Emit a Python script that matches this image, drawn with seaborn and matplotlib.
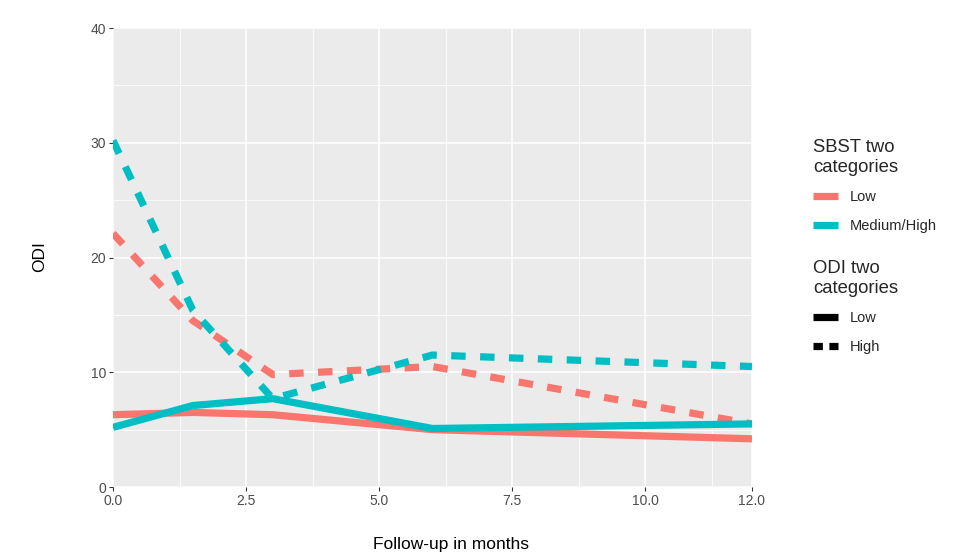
import matplotlib
matplotlib.use("Agg")
import matplotlib.pyplot as plt
from matplotlib.lines import Line2D
from matplotlib.ticker import MultipleLocator, FixedLocator
import seaborn as sns
import pandas as pd

# Follow-up visits (months)
months = [0, 1.5, 3, 6, 12]

# Mean ODI per group
sbst_low_odi_low = [6.3, 6.5, 6.3, 5.0, 4.2]
sbst_med_odi_low = [5.2, 7.1, 7.7, 5.1, 5.5]
sbst_low_odi_high = [22.1, 14.5, 9.8, 10.5, 5.5]
sbst_med_odi_high = [30.2, 15.4, 7.7, 11.5, 10.5]

sbst_levels = ["Low", "Medium/High"]
odi_levels = ["Low", "High"]
x_ticks = [0, 2.5, 5, 7.5, 10, 12]
x_tick_labels = ["0.0", "2.5", "5.0", "7.5", "10.0", "12.0"]
y_ticks = [0, 10, 20, 30, 40]

groups = [
    ("Low", "Low", sbst_low_odi_low),
    ("Medium/High", "Low", sbst_med_odi_low),
    ("Low", "High", sbst_low_odi_high),
    ("Medium/High", "High", sbst_med_odi_high),
]
rows = []
for sbst, odi, vals in groups:
    for m, v in zip(months, vals):
        rows.append({"month": m, "odi": v, "sbst": sbst, "odicat": odi})
df = pd.DataFrame(rows)

sns.set_theme(style="darkgrid")
plt.rcParams["font.family"] = ["Liberation Sans", "DejaVu Sans"]

palette = {"Low": "#F8766D", "Medium/High": "#00BFC4"}
dash_map = {"Low": "", "High": (2, 2)}

fig = plt.figure(figsize=(9.6, 5.55), dpi=100)
fig.patch.set_facecolor("white")
ax = fig.add_axes([0.1177, 0.1225, 0.6656, 0.827])
ax.set_facecolor("#EBEBEB")

sns.lineplot(data=df, x="month", y="odi", hue="sbst", style="odicat",
             hue_order=sbst_levels, style_order=odi_levels,
             palette=palette, dashes=dash_map, linewidth=5.2,
             legend=False, ax=ax, estimator=None, sort=True)
for ln in ax.get_lines():
    ln.set_solid_capstyle("butt")
    ln.set_dash_capstyle("butt")

ax.set_xlim(0, 12)
ax.set_ylim(0, 40)
ax.xaxis.set_major_locator(FixedLocator(x_ticks))
ax.set_xticklabels(x_tick_labels)
ax.xaxis.set_minor_locator(FixedLocator([1.25, 3.75, 6.25, 8.75, 11.25]))
ax.yaxis.set_major_locator(FixedLocator(y_ticks))
ax.yaxis.set_minor_locator(MultipleLocator(5))
ax.grid(which="major", color="white", linewidth=1.1)
ax.grid(which="minor", color="white", linewidth=0.55)
for s in ax.spines.values():
    s.set_visible(False)
ax.tick_params(which="major", length=3, width=0.8, color="#333333",
               labelsize=10, labelcolor="#4D4D4D", pad=2, bottom=True, left=True)
ax.tick_params(which="minor", length=0)

ax.set_xlabel("")
ax.set_ylabel("")
fig.text(451 / 960, 1 - 545 / 555, "Follow-up in months", fontsize=12.5,
         ha="center", va="center", color="black")
fig.text(40 / 960, 1 - 257 / 555, "ODI", fontsize=12.5, rotation=90,
         ha="center", va="center", color="black")

# Legends
common = dict(loc="upper left", frameon=False, fontsize=10.5, title_fontsize=13.3,
              handlelength=1.7, handletextpad=0.8, labelspacing=1.0,
              borderpad=0, alignment="left")
h1 = [Line2D([], [], color=palette[k], linewidth=5.2, solid_capstyle="butt") for k in sbst_levels]
leg1 = fig.legend(h1, sbst_levels, title="SBST two\ncategories",
                  bbox_to_anchor=(806 / 960, 1 - 132 / 555), **common)
h2 = [Line2D([], [], color="black", linewidth=5.2, solid_capstyle="butt"),
      Line2D([], [], color="black", linewidth=5.2, dashes=(1.3, 0.9), dash_capstyle="butt")]
leg2 = fig.legend(h2, odi_levels, title="ODI two\ncategories",
                  bbox_to_anchor=(806 / 960, 1 - 253 / 555), **common)

fig.savefig("out.png", dpi=100)
